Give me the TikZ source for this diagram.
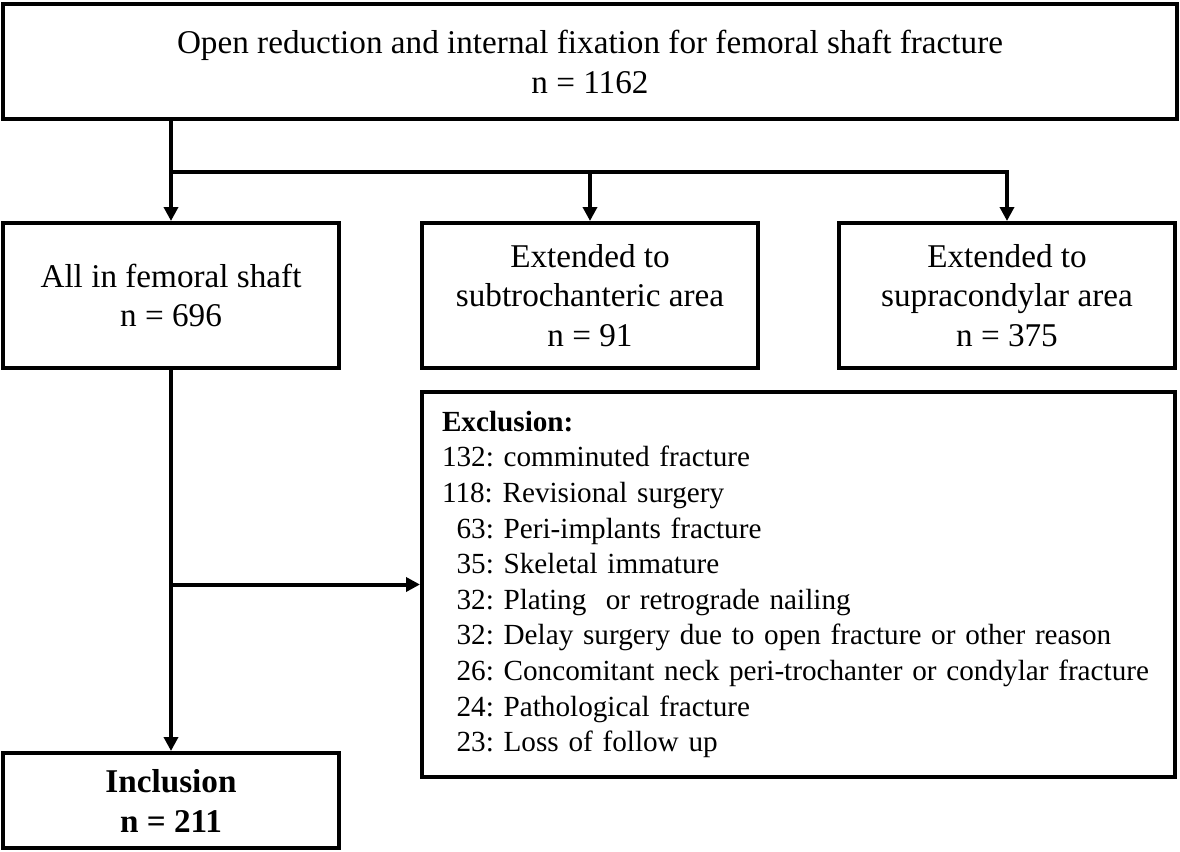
\documentclass[tikz,border=0pt]{standalone}
\usepackage{fontspec}
\setmainfont{Liberation Serif}
\usetikzlibrary{arrows.meta}
\begin{document}
\begin{tikzpicture}[x=0.5pt,y=-0.5pt,>={Triangle[length=7pt,width=7pt]}, line width=2pt,
	font=\fontsize{16.6}{19.8}\selectfont,
	box/.style={draw,line width=2pt,align=center,inner sep=0pt}]
	\useasboundingbox (0,0) rectangle (1180,852);
	% Boxes
	\node[box,minimum width=587pt,minimum height=57.5pt,
		font=\fontsize{16.6}{20}\selectfont] (top) at (590,61.5)
		{Open reduction and internal fixation for femoral shaft fracture\\ n = 1162};
	\node[box,minimum width=168pt,minimum height=72.5pt] (shaft) at (171,295.5)
		{All in femoral shaft\\ n = 696};
	\node[box,minimum width=168pt,minimum height=72.5pt] (subtro) at (590,295.5)
		{Extended to\\ subtrochanteric area\\ n = 91};
	\node[box,minimum width=168pt,minimum height=72.5pt] (supra) at (1007,295.5)
		{Extended to\\ supracondylar area\\ n = 375};
	\node[box,align=left,text width=356.5pt,inner xsep=10pt,minimum height=192.5pt,
		font=\fontsize{14.6}{17.8}\selectfont\frenchspacing] (excl) at (798.5,584.5)
		{\textbf{Exclusion:}\\
		132: comminuted fracture\\
		118: Revisional surgery\\
		\hphantom{1}63: Peri-implants fracture\\
		\hphantom{1}35: Skeletal immature\\
		\hphantom{1}32: Plating\ \ or retrograde nailing\\
		\hphantom{1}32: Delay surgery due to open fracture or other reason\\
		\hphantom{1}26: Concomitant neck peri-trochanter or condylar fracture\\
		\hphantom{1}24: Pathological fracture\\
		\hphantom{1}23: Loss of follow up};
	\node[box,minimum width=168pt,minimum height=47.5pt,
		font=\fontsize{16.6}{20}\selectfont\bfseries] (incl) at (171,800.5)
		{Inclusion\\ n = 211};
	% Connectors
	\coordinate (split) at (171,172);
	\draw[->] (shaft.north |- top.south) -- (shaft.north);
	\draw[->] (split) -| (supra.north);
	\draw[->] (split -| subtro.north) -- (subtro.north);
	\draw[->] (shaft.south) -- (incl.north);
	\draw[->] (shaft.south |- excl.west) -- (excl.west);
\end{tikzpicture}
\end{document}
